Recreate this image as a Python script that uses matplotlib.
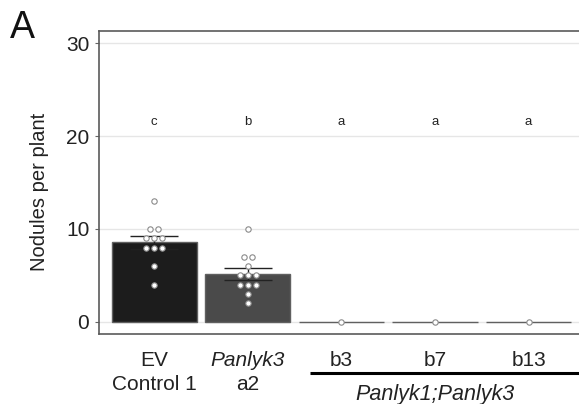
import matplotlib
matplotlib.use('Agg')
import matplotlib.pyplot as plt
import numpy as np
from matplotlib.transforms import blended_transform_factory

plt.rcParams['font.family'] = ['Liberation Sans', 'DejaVu Sans']

# ---- data ----
label_line1 = ['EV', 'Panlyk3', 'b3', 'b7', 'b13']
label_line2 = ['Control 1', 'a2', '', '', '']
label_italic = [False, True, False, False, False]
sig_letters = ['c', 'b', 'a', 'a', 'a']
ev_values = [13, 10, 10, 9, 9, 9, 8, 8, 8, 6, 4]
a2_values = [10, 7, 7, 6, 5, 5, 5, 4, 4, 4, 3, 2]
b3_values = [0]
b7_values = [0]
b13_values = [0]
group_label = 'Panlyk1;Panlyk3'
bar_colors = ['#1c1c1c', '#4a4a4a', '#4a4a4a', '#4a4a4a', '#4a4a4a']

groups = [ev_values, a2_values, b3_values, b7_values, b13_values]
x = np.arange(len(groups))
means = [float(np.mean(g)) for g in groups]
ses = [float(np.std(g, ddof=1) / np.sqrt(len(g))) if len(g) > 1 else 0.0 for g in groups]

fig = plt.figure(figsize=(5.79, 4.04), dpi=100)
ax = fig.add_axes([0.171, 0.1733, 0.8406, 0.75])

ax.bar(x, means, width=0.91, color=bar_colors, edgecolor='#606060', linewidth=1.0, zorder=2)

# error bars for groups with spread
idx = [i for i in range(len(groups)) if ses[i] > 0]
ax.errorbar([x[i] for i in idx], [means[i] for i in idx], yerr=[ses[i] for i in idx],
            fmt='none', ecolor='#222222', elinewidth=1.0, capsize=17, capthick=1.0, zorder=3)

# dot-plot style points (duplicates spread horizontally)
step = 0.085
for i, g in enumerate(groups):
    vals = np.array(g)
    for v in np.unique(vals):
        n = int(np.sum(vals == v))
        offs = (np.arange(n) - (n - 1) / 2) * step
        ax.scatter(x[i] + offs, [v] * n, s=15, facecolor='white', edgecolor='#8a8a8a',
                   linewidth=0.8, zorder=4)

# significance letters
for i, l in enumerate(sig_letters):
    ax.text(x[i], 21.5, l, ha='center', va='center', fontsize=9.5, color='#222222')

ax.set_xlim(-0.59, 4.61)
ax.set_ylim(-1.3, 31.3)
ax.set_yticks([0, 10, 20, 30])
ax.yaxis.grid(True, color='#e6e6e6', linewidth=1.0)
ax.set_axisbelow(True)
for s in ax.spines.values():
    s.set_color('#5a5a5a')
    s.set_linewidth(1.2)
ax.tick_params(axis='y', length=3, width=0.8, color='#666666', labelsize=15,
               labelcolor='#222222', pad=4)
ax.tick_params(axis='x', length=0, labelbottom=False)

ax.set_ylabel('Nodules per plant', fontsize=14.5, color='#222222')
ax.yaxis.set_label_coords(-0.103, 0.47)

trans = blended_transform_factory(ax.transData, ax.transAxes)
for i in range(len(groups)):
    ax.text(x[i], -0.1056, label_line1[i], transform=trans, ha='center', va='baseline',
            fontsize=15, color='#222222', style='italic' if label_italic[i] else 'normal')
    if label_line2[i]:
        ax.text(x[i], -0.185, label_line2[i], transform=trans, ha='center', va='baseline',
                fontsize=15, color='#222222')

ax.plot([1.66, 4.9], [-0.129, -0.129], transform=trans, color='black', lw=2.2,
        clip_on=False, solid_capstyle='butt')
ax.text(3.0, -0.218, group_label, transform=trans, ha='center', va='baseline',
        fontsize=15.5, style='italic', color='#222222')

fig.text(10 / 579, 1 - 10 / 404, 'A', fontsize=27, ha='left', va='top', color='#111111')

fig.savefig('out.png', dpi=100)
